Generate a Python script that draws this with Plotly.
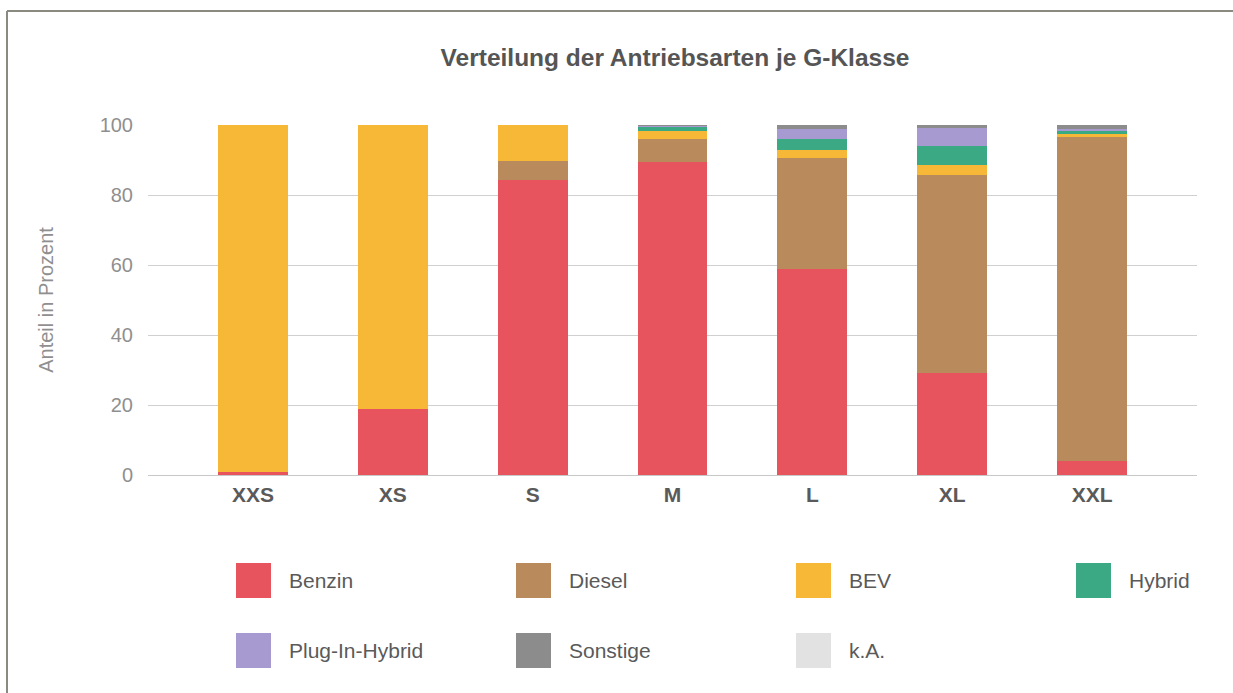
import plotly.graph_objects as go

categories = ["XXS", "XS", "S", "M", "L", "XL", "XXL"]
series_names = ["Benzin", "Diesel", "BEV", "Hybrid", "Plug-In-Hybrid", "Sonstige", "k.A."]
benzin = [0.8, 19.0, 84.3, 89.4, 58.9, 29.1, 4.0]
diesel = [0.0, 0.0, 5.4, 6.6, 31.7, 56.6, 92.6]
bev = [99.2, 81.0, 10.3, 2.2, 2.3, 2.9, 0.8]
hybrid = [0.0, 0.0, 0.0, 1.3, 3.1, 5.4, 0.9]
plugin = [0.0, 0.0, 0.0, 0.3, 2.9, 5.1, 0.6]
sonstige = [0.0, 0.0, 0.0, 0.2, 1.1, 0.9, 1.1]
ka = [0.0, 0.0, 0.0, 0.0, 0.0, 0.0, 0.0]
colors = ["#E8545E", "#B98A5B", "#F6B836", "#3BA983", "#A69AD0", "#8C8C8C", "#E2E2E2"]
y_ticks = [0, 20, 40, 60, 80, 100]

series_values = [benzin, diesel, bev, hybrid, plugin, sonstige, ka]

FONT = "Liberation Sans, Arial, sans-serif"

fig = go.Figure()
for name, vals, col in zip(series_names, series_values, colors):
    fig.add_trace(go.Bar(x=categories, y=vals, name=name, marker=dict(color=col, line=dict(width=0)),
                         width=0.5, showlegend=False))

# plot area in pixels
W, H = 1233, 693
L, R, T, B = 148, 36, 125, 218
pw = W - L - R
ph = H - T - B

def px_x(x):
    return (x - L) / pw

def px_y(y):
    return (H - B - y) / ph

shapes = []
annotations = []
# custom legend: 4 columns
col_x0 = 236
col_step = 280
row_y = [563, 633]
sw = 35
for i, (name, col) in enumerate(zip(series_names, colors)):
    r, c = divmod(i, 4)
    x0 = col_x0 + c * col_step
    y0 = row_y[r]
    shapes.append(dict(type="rect", xref="paper", yref="paper",
                       x0=px_x(x0), x1=px_x(x0 + sw), y0=px_y(y0 + sw), y1=px_y(y0),
                       fillcolor=col, line=dict(width=0), layer="above"))
    annotations.append(dict(xref="paper", yref="paper", x=px_x(x0 + 51), y=px_y(y0 + sw / 2),
                            text=name, showarrow=False, xanchor="left", yanchor="middle",
                            font=dict(family=FONT, size=21, color="#5a5a5a")))

# outer frame lines
frame_col = "#8a8a80"
shapes.append(dict(type="line", xref="paper", yref="paper", x0=px_x(7), x1=px_x(W + 5),
                   y0=px_y(11), y1=px_y(11), line=dict(color=frame_col, width=2), layer="above"))
shapes.append(dict(type="line", xref="paper", yref="paper", x0=px_x(7), x1=px_x(7),
                   y0=px_y(11), y1=px_y(H + 5), line=dict(color=frame_col, width=2), layer="above"))

fig.update_layout(
    barmode="stack",
    width=W, height=H,
    margin=dict(l=L, r=R, t=T, b=B, autoexpand=False),
    paper_bgcolor="white", plot_bgcolor="white",
    title=dict(text="<b>Verteilung der Antriebsarten je G-Klasse</b>", xref="container",
               x=675 / W, xanchor="center", y=1 - 57 / H, yanchor="middle",
               font=dict(family=FONT, size=24.5, color="#555555")),
    shapes=shapes,
    annotations=annotations,
    bargap=0.5,
)
fig.update_xaxes(range=[-0.75, 6.75], showgrid=False, zeroline=False, showline=False,
                 ticks="", tickfont=dict(family=FONT, size=21, color="#5a5a5a"),
                 tickprefix="<b>", ticksuffix="</b>", ticklabelstandoff=5)
fig.update_yaxes(range=[0, 100], tickvals=y_ticks, showgrid=True, gridcolor="#d0d0d0", gridwidth=1,
                 zeroline=True, zerolinecolor="#c8c8c8", zerolinewidth=1, showline=False, ticks="",
                 tickfont=dict(family=FONT, size=20, color="#8f8f8f"), ticklabelstandoff=14,
                 title=dict(text="Anteil in Prozent", font=dict(family=FONT, size=20, color="#8f8f8f"),
                            standoff=40))

fig.write_html("out.html", config={"displayModeBar": False},
               post_script="document.body.style.margin='0px';document.body.style.overflow='hidden';")
